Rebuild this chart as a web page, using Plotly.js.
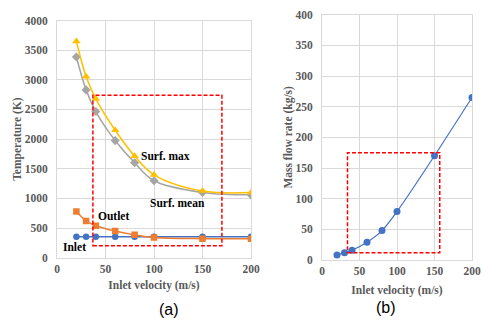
<!DOCTYPE html>
<html>
<head>
<meta charset="utf-8">
<script src="https://cdn.plot.ly/plotly-3.0.1.min.js"></script>
<style>html,body{margin:0;padding:0;background:#fff;}#chart{width:483px;height:331px;}</style>
</head>
<body>
<div id="chart"></div>
<script>
// Data
const velocity = [20, 30, 40, 60, 80, 100, 150, 200];
const surfMax = [3650, 3055, 2680, 2150, 1715, 1398, 1125, 1098];
const surfMean = [3385, 2830, 2465, 1975, 1602, 1298, 1100, 1060];
const outlet = [778, 620, 540, 450, 385, 340, 320, 320];
const inlet = [355, 355, 355, 355, 355, 355, 355, 355];
const massFlow = [8, 12, 16, 29, 48, 79, 170, 265];
const seriesLabels = ["Surf. max", "Surf. mean", "Outlet", "Inlet"];
const panelLabels = ["(a)", "(b)"];
const boxA = {x0: 37, x1: 170, y0: 200, y1: 2740};
const boxB = {x0: 34, x1: 157, y0: 12, y1: 175};

const serif = "Liberation Serif, Times New Roman, serif";
const grey = "#595959";
const gridC = "#D9D9D9";

function tr(y, color, sym, name, xa, ya, size) {
  return {x: velocity, y: y, type: 'scatter', mode: 'lines+markers', name: name,
    xaxis: xa, yaxis: ya,
    line: {color: color, width: 1.5, shape: 'spline', smoothing: 1},
    marker: {color: color, symbol: sym, size: size}};
}

const data = [
  tr(inlet, '#4472C4', 'circle', 'Inlet', 'x', 'y', 6.5),
  tr(outlet, '#ED7D31', 'square', 'Outlet', 'x', 'y', 6.5),
  tr(surfMean, '#A5A5A5', 'diamond', 'Surf. mean', 'x', 'y', 7),
  tr(surfMax, '#FFC000', 'triangle-up', 'Surf. max', 'x', 'y', 7.5),
  tr(massFlow, '#4472C4', 'circle', 'Mass flow', 'x2', 'y2', 7)
];
data[4].line.smoothing = 0.6;
data[4].line.width = 1.2;

const axBase = {
  showgrid: true, gridcolor: gridC, gridwidth: 1,
  showline: true, linecolor: gridC, linewidth: 1, mirror: true,
  zeroline: false, ticks: '', automargin: false,
  tickfont: {family: serif, size: 11.5, color: grey, weight: 'bold'},
  fixedrange: true
};
function ax(extra) { return Object.assign({}, axBase, extra); }
const titleFont = {family: serif, size: 11.5, color: grey, weight: 'bold'};

const layout = {
  width: 483, height: 331,
  margin: {l: 0, r: 0, t: 0, b: 0},
  paper_bgcolor: '#fff', plot_bgcolor: '#fff',
  showlegend: false,
  xaxis: ax({domain: [57/483, 251/483], range: [0, 200], dtick: 50, anchor: 'y',
    title: {text: 'Inlet velocity (m/s)', font: titleFont, standoff: 7}}),
  yaxis: ax({domain: [(331-257.7)/331, (331-20.5)/331], range: [0, 4000], dtick: 500, anchor: 'x',
    ticklabelstandoff: 6,
    title: {text: 'Temperature (K)', font: titleFont, standoff: 0}}),
  xaxis2: ax({domain: [322/483, 472/483], range: [0, 200], dtick: 50, anchor: 'y2',
    title: {text: 'Inlet velocity (m/s)', font: titleFont, standoff: 10}}),
  yaxis2: ax({domain: [(331-260)/331, (331-14.7)/331], range: [0, 400], dtick: 50, anchor: 'x2',
    ticklabelstandoff: 6,
    title: {text: 'Mass flow rate (kg/s)', font: titleFont, standoff: 0}}),
  shapes: [
    {type: 'rect', xref: 'x', yref: 'y', x0: boxA.x0, x1: boxA.x1, y0: boxA.y0, y1: boxA.y1,
      line: {color: '#FF0000', width: 1.5, dash: '4px,2px'}},
    {type: 'rect', xref: 'x2', yref: 'y2', x0: boxB.x0, x1: boxB.x1, y0: boxB.y0, y1: boxB.y1,
      line: {color: '#FF0000', width: 1.5, dash: '4px,2px'}}
  ],
  annotations: [
    {text: seriesLabels[0], xref: 'x', yref: 'y', x: 112, y: 1715, showarrow: false,
      font: {family: serif, size: 11.5, color: '#000', weight: 'bold'}},
    {text: seriesLabels[1], xref: 'x', yref: 'y', x: 124, y: 927, showarrow: false,
      font: {family: serif, size: 11.5, color: '#000', weight: 'bold'}},
    {text: seriesLabels[2], xref: 'x', yref: 'y', x: 58, y: 703, showarrow: false,
      font: {family: serif, size: 11.5, color: '#000', weight: 'bold'}},
    {text: seriesLabels[3], xref: 'x', yref: 'y', x: 18, y: 180, showarrow: false,
      font: {family: serif, size: 11.5, color: '#000', weight: 'bold'}},
    {text: panelLabels[0], xref: 'paper', yref: 'paper', x: 157/483, y: (331-320)/331, showarrow: false,
      font: {family: 'Liberation Sans, Arial, sans-serif', size: 16, color: '#000'}},
    {text: panelLabels[1], xref: 'paper', yref: 'paper', x: 398/483, y: (331-318)/331, showarrow: false,
      font: {family: 'Liberation Sans, Arial, sans-serif', size: 16, color: '#000'}}
  ]
};

Plotly.newPlot('chart', data, layout, {displayModeBar: false, staticPlot: true});
</script>
</body>
</html>
